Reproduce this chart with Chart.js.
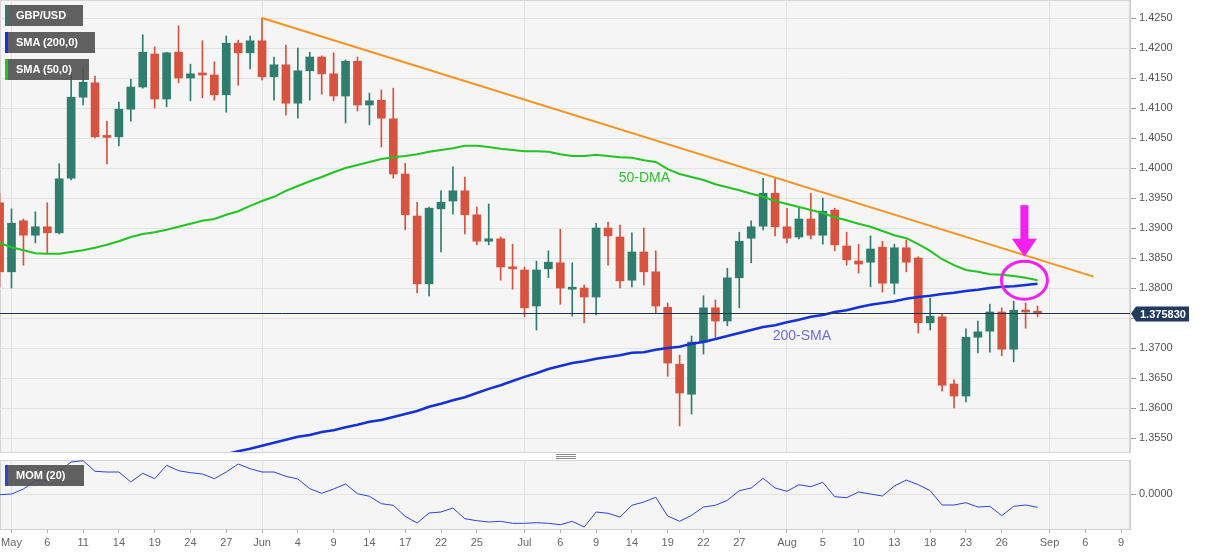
<!DOCTYPE html>
<html>
<head>
  <meta charset="UTF-8" />
  <title>GBP/USD daily</title>
  <script src="https://cdn.jsdelivr.net/npm/chart.js@4"></script>
  <style>
    body { margin: 0; width: 1207px; height: 555px; overflow: hidden; background: #fff; font-family: "Liberation Sans", Arial, sans-serif; }
    .wrap { position: absolute; left: 0; }
    #mainWrap { top: 0; }
    #momWrap { top: 460px; }
    .tag { position: absolute; left: 5px; height: 21px; line-height: 21px; background: rgba(80, 80, 80, 0.9); color: #fff; font-size: 11px; font-weight: bold; padding-left: 8px; box-sizing: border-box; border-left: 3px solid; }
    .handle { position: absolute; left: 556px; width: 20px; height: 1px; background: #8c8c8c; }
  </style>
</head>
<body>
  <div class="wrap" id="mainWrap"><canvas id="mainChart" width="1207" height="453"></canvas></div>
  <div class="wrap" id="momWrap"><canvas id="momChart" width="1207" height="95"></canvas></div>

  <div class="tag" style="top:5px;width:78px;border-color:#2e7d6b">GBP/USD</div>
  <div class="tag" style="top:32px;width:90px;border-color:#1432d6">SMA (200,0)</div>
  <div class="tag" style="top:59px;width:84px;border-color:#21c421">SMA (50,0)</div>
  <div class="tag" style="top:465px;width:79px;border-color:#2d44d6">MOM (20)</div>
  <div class="handle" style="top:454px"></div>
  <div class="handle" style="top:456px"></div>
  <div class="handle" style="top:458px"></div>

  <script>
    // trading days, Apr 30 .. Aug 31 (index -1 = Apr 30, 0 = May 3)
    const firstDay = -1;

    const open = [
      1.3942, 1.3827, 1.3912, 1.3888, 1.3902, 1.3892, 1.3983, 1.4118, 1.4142, 1.4053,
      1.4052, 1.4098, 1.4135, 1.4190, 1.4115, 1.4193, 1.4150, 1.4158, 1.4155, 1.4122,
      1.4208, 1.4192, 1.4212, 1.4152, 1.4172, 1.4108, 1.4162, 1.4185, 1.4157, 1.4120,
      1.4178, 1.4105, 1.4113, 1.4082, 1.3990, 1.3920, 1.3807, 1.3932, 1.3945, 1.3962,
      1.3922, 1.3878, 1.3882, 1.3835, 1.3830, 1.3770, 1.3832, 1.3842, 1.3798, 1.3800,
      1.3785, 1.3900, 1.3885, 1.3813, 1.3860, 1.3827, 1.3768, 1.3673, 1.3623, 1.3710,
      1.3767, 1.3745, 1.3817, 1.3883, 1.3903, 1.3958, 1.3902, 1.3885, 1.3915, 1.3888,
      1.3930, 1.3870, 1.3845, 1.3843, 1.3868, 1.3808, 1.3867, 1.3850, 1.3742, 1.3752,
      1.3640, 1.3620, 1.3718, 1.3728, 1.3760, 1.3698, 1.3763, 1.3761
    ];
    const high = [
      1.3958, 1.3932, 1.3915, 1.3927, 1.3942, 1.4007, 1.4163, 1.4167, 1.4153, 1.4078,
      1.4110, 1.4148, 1.4222, 1.4202, 1.4193, 1.4237, 1.4173, 1.4212, 1.4177, 1.4220,
      1.4213, 1.4220, 1.4250, 1.4185, 1.4205, 1.4200, 1.4193, 1.4187, 1.4192, 1.4180,
      1.4185, 1.4125, 1.4130, 1.4133, 1.4008, 1.3943, 1.3935, 1.3962, 1.4002, 1.3985,
      1.3935, 1.3940, 1.3885, 1.3873, 1.3835, 1.3845, 1.3862, 1.3898, 1.3842, 1.3805,
      1.3908, 1.3910, 1.3905, 1.3892, 1.3900, 1.3862, 1.3775, 1.3688, 1.3720, 1.3787,
      1.3780, 1.3833, 1.3893, 1.3912, 1.3983, 1.3983, 1.3933, 1.3935, 1.3958, 1.3950,
      1.3933, 1.3893, 1.3873, 1.3887, 1.3878, 1.3873, 1.3880, 1.3852, 1.3783, 1.3757,
      1.3647, 1.3732, 1.3745, 1.3773, 1.3767, 1.3778, 1.3775, 1.3770
    ];
    const low = [
      1.3802, 1.3800, 1.3838, 1.3875, 1.3858, 1.3890, 1.3980, 1.4105, 1.4050, 1.4007,
      1.4037, 1.4078, 1.4133, 1.4100, 1.4102, 1.4142, 1.4112, 1.4117, 1.4113, 1.4093,
      1.4138, 1.4165, 1.4147, 1.4113, 1.4088, 1.4083, 1.4113, 1.4123, 1.4112, 1.4075,
      1.4095, 1.4072, 1.4035, 1.3983, 1.3897, 1.3792, 1.3787, 1.3860, 1.3923, 1.3890,
      1.3872, 1.3872, 1.3813, 1.3798, 1.3752, 1.3730, 1.3817, 1.3773, 1.3753, 1.3742,
      1.3755, 1.3838, 1.3800, 1.3802, 1.3805, 1.3758, 1.3653, 1.3570, 1.3590, 1.3690,
      1.3718, 1.3737, 1.3767, 1.3842, 1.3897, 1.3887, 1.3875, 1.3882, 1.3882, 1.3873,
      1.3862, 1.3838, 1.3825, 1.3802, 1.3793, 1.3790, 1.3827, 1.3725, 1.3730, 1.3628,
      1.3600, 1.3610, 1.3692, 1.3693, 1.3687, 1.3677, 1.3733, 1.3752
    ];
    const close = [
      1.3827, 1.3908, 1.3888, 1.3902, 1.3892, 1.3982, 1.4118, 1.4143, 1.4052, 1.4051,
      1.4098, 1.4135, 1.4193, 1.4115, 1.4192, 1.4150, 1.4157, 1.4155, 1.4122, 1.4208,
      1.4192, 1.4212, 1.4152, 1.4172, 1.4108, 1.4162, 1.4185, 1.4157, 1.4120, 1.4178,
      1.4105, 1.4112, 1.4083, 1.3990, 1.3922, 1.3807, 1.3933, 1.3943, 1.3962, 1.3922,
      1.3878, 1.3882, 1.3835, 1.3832, 1.3767, 1.3830, 1.3843, 1.3800, 1.3800, 1.3785,
      1.3900, 1.3887, 1.3812, 1.3860, 1.3827, 1.3770, 1.3675, 1.3625, 1.3710, 1.3767,
      1.3745, 1.3817, 1.3878, 1.3902, 1.3958, 1.3902, 1.3883, 1.3915, 1.3888, 1.3928,
      1.3872, 1.3847, 1.3840, 1.3865, 1.3808, 1.3867, 1.3843, 1.3742, 1.3753, 1.3638,
      1.3620, 1.3718, 1.3727, 1.3760, 1.3698, 1.3763, 1.3760, 1.3758
    ];

    const sma50 = [
      1.3875, 1.3868, 1.3863, 1.3858, 1.3857, 1.3857, 1.3860, 1.3863, 1.3867, 1.3872,
      1.3878, 1.3885, 1.3890, 1.3893, 1.3897, 1.3902, 1.3907, 1.3912, 1.3915, 1.3922,
      1.3928, 1.3937, 1.3945, 1.3952, 1.3962, 1.3970, 1.3978, 1.3985, 1.3993, 1.4000,
      1.4005, 1.4010, 1.4015, 1.4018, 1.4020, 1.4023, 1.4027, 1.4030, 1.4033, 1.4037,
      1.4037, 1.4035, 1.4032, 1.4030, 1.4028, 1.4028, 1.4027, 1.4023, 1.4020, 1.4020,
      1.4022, 1.4020, 1.4018, 1.4017, 1.4013, 1.4010, 1.3998, 1.3990, 1.3985, 1.3980,
      1.3973, 1.3968, 1.3963, 1.3957, 1.3952, 1.3945, 1.3940, 1.3935, 1.3930, 1.3925,
      1.3918, 1.3913, 1.3907, 1.3902, 1.3895, 1.3888, 1.3883, 1.3873, 1.3862, 1.3848,
      1.3838, 1.3830, 1.3827, 1.3823, 1.3822, 1.3820, 1.3817, 1.3813
    ];
    const sma200 = [
      1.3430, 1.3435, 1.3440, 1.3445, 1.3450, 1.3455, 1.3460, 1.3465, 1.3470, 1.3475,
      1.3480, 1.3485, 1.3490, 1.3495, 1.3500, 1.3505, 1.3510, 1.3515, 1.3519, 1.3523,
      1.3528, 1.3532, 1.3537, 1.3542, 1.3547, 1.3552, 1.3555, 1.3560, 1.3563, 1.3568,
      1.3572, 1.3577, 1.3580, 1.3585, 1.3590, 1.3595, 1.3602, 1.3607, 1.3613, 1.3618,
      1.3625, 1.3632, 1.3638, 1.3645, 1.3652, 1.3658, 1.3665, 1.3670, 1.3675, 1.3678,
      1.3682, 1.3685, 1.3688, 1.3692, 1.3693, 1.3697, 1.3700, 1.3702, 1.3707, 1.3710,
      1.3715, 1.3720, 1.3725, 1.3730, 1.3735, 1.3738, 1.3743, 1.3747, 1.3752, 1.3755,
      1.3760, 1.3763, 1.3768, 1.3772, 1.3775, 1.3778, 1.3782, 1.3785, 1.3787, 1.3790,
      1.3792, 1.3795, 1.3797, 1.3800, 1.3802, 1.3803, 1.3805, 1.3807
    ];
    const mom = [
      -0.0007, 0.0000, 0.0050, 0.0133, 0.0133, 0.0227, 0.0320, 0.0333, 0.0227, 0.0220,
      0.0220, 0.0120, 0.0207, 0.0153, 0.0287, 0.0233, 0.0213, 0.0200, 0.0153, 0.0220,
      0.0300, 0.0253, 0.0220, 0.0220, 0.0177, 0.0150, 0.0053, 0.0007, 0.0050, 0.0100,
      0.0003, -0.0023, -0.0097, -0.0113, -0.0223, -0.0290, -0.0190, -0.0180, -0.0140, -0.0247,
      -0.0267, -0.0280, -0.0273, -0.0293, -0.0293, -0.0287, -0.0293, -0.0307, -0.0273, -0.0330,
      -0.0180, -0.0193, -0.0230, -0.0113, -0.0080, -0.0033, -0.0220, -0.0273, -0.0213, -0.0130,
      -0.0113, -0.0063, 0.0033, 0.0060, 0.0157, 0.0060, 0.0027, 0.0093, 0.0073, 0.0117,
      -0.0027, -0.0037, 0.0020, 0.0000, -0.0020, 0.0080, 0.0140, 0.0093, 0.0033, -0.0110,
      -0.0110, -0.0087, -0.0130, -0.0123, -0.0217, -0.0123, -0.0110, -0.0133
    ];

    // x tick labels (trading-day index -> text)
    const tickIdx = [0, 3, 6, 9, 12, 15, 18, 21, 24, 27, 30, 33, 36, 39, 43, 46, 49, 52, 55, 58, 61,
      65, 68, 71, 74, 77, 80, 83, 87, 90, 93];
    const tickText = ['May', '6', '11', '14', '19', '24', '27', 'Jun', '4', '9', '14', '17', '22', '25',
      'Jul', '6', '9', '14', '19', '22', '27', 'Aug', '5', '10', '13', '18', '23', '26', 'Sep', '6', '9'];
    const monthIdx = [0, 21, 43, 65, 87];
    const priceTicks = [1.3550, 1.3600, 1.3650, 1.3700, 1.3750, 1.3800, 1.3850, 1.3900,
      1.3950, 1.4000, 1.4050, 1.4100, 1.4150, 1.4200, 1.4250];

    const lastPrice = 1.375830;
    const trendX = [21, 90.7];
    const trendY = [1.4250, 1.3819];
    const ringAt = { x: 84.9, y: 1.3813 };
    const arrowAt = { x: 84.9, top: 1.3938, tip: 1.3852 };
    const dmaNote = { x: 50.9, y: 1.3983, text: '50-DMA' };
    const smaNote = { x: 63.8, y: 1.3720, text: '200-SMA' };

    const UP = '#2f7e6d';
    const DOWN = '#d6533f';
    const FONT = '"Liberation Sans", Arial, sans-serif';
    Chart.defaults.font.family = FONT;

    const days = open.map((_, k) => k + firstDay);
    const candleColor = open.map((o, k) => (close[k] >= o ? UP : DOWN));
    const xMin = -0.964, xMax = 93.75;

    const plotBg = {
      id: 'plotBg',
      beforeDraw(chart) {
        const { ctx, chartArea: a } = chart;
        ctx.save();
        ctx.fillStyle = '#f5f5f6';
        ctx.fillRect(a.left, a.top, a.width, a.height);
        ctx.strokeStyle = '#d6d6d6';
        ctx.lineWidth = 1;
        ctx.strokeRect(a.left + 0.5, a.top + 0.5, a.width - 1, a.height);
        ctx.restore();
      }
    };

    const mainNotes = {
      id: 'mainNotes',
      afterDatasetsDraw(chart) {
        const { ctx, chartArea: a, scales: { x, y } } = chart;
        ctx.save();

        // last price line + label
        const py = Math.round(y.getPixelForValue(lastPrice)) + 0.5;
        ctx.strokeStyle = '#1f3050';
        ctx.lineWidth = 1;
        ctx.beginPath();
        ctx.moveTo(a.left, py);
        ctx.lineTo(a.right, py);
        ctx.stroke();
        ctx.fillStyle = '#213a5e';
        ctx.beginPath();
        ctx.moveTo(a.right + 1, py);
        ctx.lineTo(a.right + 6, py - 7);
        ctx.lineTo(a.right + 59, py - 7);
        ctx.lineTo(a.right + 59, py + 8);
        ctx.lineTo(a.right + 6, py + 8);
        ctx.closePath();
        ctx.fill();
        ctx.fillStyle = '#fff';
        ctx.font = 'bold 11px ' + FONT;
        ctx.textBaseline = 'middle';
        ctx.fillText(lastPrice.toFixed(6), a.right + 10, py + 1);

        // text notes
        ctx.font = '14px ' + FONT;
        ctx.fillStyle = '#2bc22b';
        ctx.fillText(dmaNote.text, x.getPixelForValue(dmaNote.x), y.getPixelForValue(dmaNote.y));
        ctx.fillStyle = '#6c6ce0';
        ctx.fillText(smaNote.text, x.getPixelForValue(smaNote.x), y.getPixelForValue(smaNote.y));

        // magenta ring
        ctx.strokeStyle = '#f41ff0';
        ctx.lineWidth = 3;
        ctx.beginPath();
        ctx.ellipse(x.getPixelForValue(ringAt.x), y.getPixelForValue(ringAt.y), 23, 19, 0, 0, Math.PI * 2);
        ctx.stroke();

        // magenta arrow
        const ax = x.getPixelForValue(arrowAt.x);
        const top = y.getPixelForValue(arrowAt.top);
        const tip = y.getPixelForValue(arrowAt.tip);
        const base = tip - 18;
        ctx.fillStyle = '#f41ff0';
        ctx.fillRect(ax - 4, top, 8, base - top + 1);
        ctx.beginPath();
        ctx.moveTo(ax - 12.5, base);
        ctx.lineTo(ax + 12.5, base);
        ctx.lineTo(ax, tip);
        ctx.closePath();
        ctx.fill();

        ctx.restore();
      }
    };

    const monthGrid = (c) => (c.tick && monthIdx.includes(c.tick.value) ? '#e2e2e2' : 'rgba(0,0,0,0)');

    new Chart(document.getElementById('mainChart'), {
      type: 'bar',
      data: {
        datasets: [
          {
            type: 'line', label: 'Trend line',
            data: trendX.map((v, k) => ({ x: v, y: trendY[k] })),
            borderColor: '#f7931e', borderWidth: 2, pointRadius: 0, order: 0
          },
          {
            type: 'line', label: 'SMA (200,0)',
            data: days.map((d, k) => ({ x: d, y: sma200[k] })),
            borderColor: '#1432d6', borderWidth: 2.5, pointRadius: 0, order: 0
          },
          {
            type: 'line', label: 'SMA (50,0)',
            data: days.map((d, k) => ({ x: d, y: sma50[k] })),
            borderColor: '#21c421', borderWidth: 2, pointRadius: 0, order: 0
          },
          {
            label: 'Wick',
            data: days.map((d, k) => ({ x: d, y: [low[k], high[k]] })),
            backgroundColor: candleColor, barThickness: 1, grouped: false, order: 2
          },
          {
            label: 'Body',
            data: days.map((d, k) => ({ x: d, y: [open[k], close[k]] })),
            backgroundColor: candleColor, barThickness: 8, minBarLength: 2, grouped: false, order: 1
          }
        ]
      },
      options: {
        responsive: false,
        animation: false,
        events: [],
        layout: { padding: 0 },
        plugins: { legend: { display: false }, tooltip: { enabled: false } },
        scales: {
          x: {
            type: 'linear', min: xMin, max: xMax, offset: false,
            afterBuildTicks: (s) => { s.ticks = tickIdx.map((v) => ({ value: v })); },
            afterFit: (s) => { s.height = 1; s.paddingLeft = 0; s.paddingRight = 0; },
            ticks: { display: false },
            grid: { offset: false, drawTicks: false, color: monthGrid },
            border: { display: false }
          },
          y: {
            position: 'right', min: 1.35267, max: 1.4280, beginAtZero: false,
            afterBuildTicks: (s) => { s.ticks = priceTicks.map((v) => ({ value: v })); },
            afterFit: (s) => { s.width = 77; s.paddingTop = 0; s.paddingBottom = 0; },
            ticks: { color: '#555', font: { size: 11 }, padding: 3, callback: (v) => v.toFixed(4) },
            grid: { color: '#e3e3e3', tickLength: 6, tickColor: '#9a9a9a' },
            border: { color: '#cfcfcf' }
          }
        }
      },
      plugins: [plotBg, mainNotes]
    });

    new Chart(document.getElementById('momChart'), {
      type: 'line',
      data: {
        datasets: [{
          label: 'MOM (20)',
          data: days.map((d, k) => ({ x: d, y: mom[k] })),
          borderColor: '#2d44d6', borderWidth: 1, pointRadius: 0
        }]
      },
      options: {
        responsive: false,
        animation: false,
        events: [],
        layout: { padding: 0 },
        plugins: { legend: { display: false }, tooltip: { enabled: false } },
        scales: {
          x: {
            type: 'linear', min: xMin, max: xMax,
            afterBuildTicks: (s) => { s.ticks = tickIdx.map((v) => ({ value: v })); },
            afterFit: (s) => { s.height = 26; s.paddingLeft = 0; s.paddingRight = 0; },
            ticks: {
              autoSkip: false, maxRotation: 0, color: '#666', font: { size: 11 }, padding: 3,
              callback: (v) => tickText[tickIdx.indexOf(v)]
            },
            grid: { color: monthGrid, tickLength: 4, tickColor: '#aaa' },
            border: { color: '#cfcfcf' }
          },
          y: {
            position: 'right', min: -0.035, max: 0.034,
            afterBuildTicks: (s) => { s.ticks = [{ value: 0 }]; },
            afterFit: (s) => { s.width = 77; s.paddingTop = 0; s.paddingBottom = 0; },
            ticks: { color: '#555', font: { size: 11 }, padding: 3, callback: (v) => v.toFixed(4) },
            grid: { color: '#e3e3e3', tickLength: 6, tickColor: '#9a9a9a' },
            border: { color: '#cfcfcf' }
          }
        }
      },
      plugins: [plotBg]
    });
  </script>
</body>
</html>
